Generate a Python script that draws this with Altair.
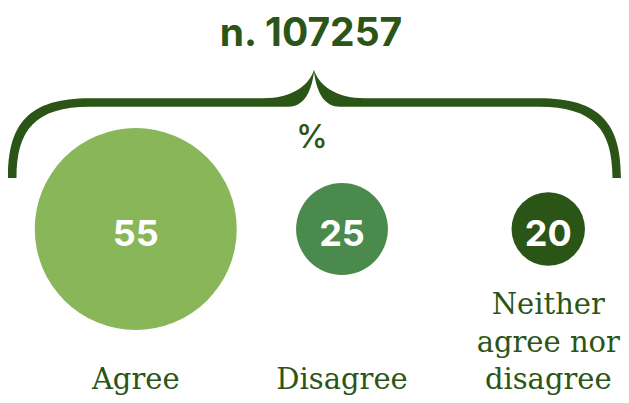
import altair as alt
import pandas as pd

# ---- data ----
categories = ["Agree", "Disagree", "Neither agree nor disagree"]
labels = ["Agree", "Disagree", "Neither\nagree nor\ndisagree"]
values = [55, 25, 20]
colors = ["#8ab65a", "#4a8a4c", "#2b5516"]
n_total = [107257]
unit = "%"

DARK = "#2b5516"
W, H = 613, 387

df = pd.DataFrame({"category": categories, "label": labels, "value": values})
ndf = pd.DataFrame({"n": n_total})

# curly brace drawn as a custom symbol (size=4 -> path units are pixels)
BRACE = (
    "M 0 170 C 0 116 20 90.25 82 90.25 L 255 90.25 "
    "C 285 90.25 301 77 306 62 C 311 77 327 90.25 357 90.25 "
    "L 531 90.25 C 593 90.25 613 116 613 170 L 604.5 170 "
    "C 604.5 122 586 98.75 531 98.75 L 332 98.75 "
    "C 317 98.75 309 86 306 64 C 303 86 295 98.75 280 98.75 "
    "L 82 98.75 C 27 98.75 8.5 122 8.5 170 Z"
)

xscale = alt.Scale(domain=categories, range=[127.75, 540.25], padding=0)
r_max = 101
# Vega circle: radius = sqrt(size)/2
size_scale = alt.Scale(type="pow", exponent=2, domain=[0, 55], range=[0, (2 * r_max) ** 2])

brace = alt.Chart(ndf).mark_point(
    shape=BRACE, filled=True, size=4, color=DARK, opacity=1, strokeWidth=0
).encode(x=alt.value(0), y=alt.value(0))

title = alt.Chart(ndf).transform_calculate(
    t="'n. ' + datum.n"
).mark_text(
    font="Inter", fontWeight="bold", fontSize=39, color=DARK,
    align="center", baseline="alphabetic"
).encode(x=alt.value(303), y=alt.value(38), text="t:N")

pct = alt.Chart(ndf).mark_text(
    text=unit, font="Inter", fontWeight=500, fontSize=32, color=DARK,
    align="center", baseline="alphabetic"
).encode(x=alt.value(304), y=alt.value(140))

circles = alt.Chart(df).mark_circle(opacity=1).encode(
    x=alt.X("category:N", scale=xscale, axis=None),
    y=alt.value(221),
    size=alt.Size("value:Q", scale=size_scale, legend=None),
    color=alt.Color("category:N", scale=alt.Scale(domain=categories, range=colors), legend=None),
)

nums = alt.Chart(df).mark_text(
    font="Inter", fontWeight="bold", fontSize=36, color="white",
    align="center", baseline="alphabetic", dy=17
).encode(
    x=alt.X("category:N", scale=xscale, axis=None),
    y=alt.value(221),
    text="value:Q",
)

names = alt.Chart(df).transform_calculate(
    nlines="length(split(datum.label, '\\n'))"
).mark_text(
    font="DejaVu Serif", fontSize=29, color=DARK, align="center",
    baseline="alphabetic", lineBreak="\n", lineHeight=37.5
).encode(
    x=alt.X("category:N", scale=xscale, axis=None),
    y=alt.Y("nlines:Q", scale=alt.Scale(domain=[1, 3], range=[381, 306]), axis=None),
    text="label:N",
)

chart = alt.layer(brace, title, pct, circles, nums, names).properties(
    width=W, height=H, autosize=alt.AutoSizeParams(type="none"), padding=0
).configure_view(stroke=None)

chart.save("out.html", embed_options={"renderer": "svg", "actions": False})
